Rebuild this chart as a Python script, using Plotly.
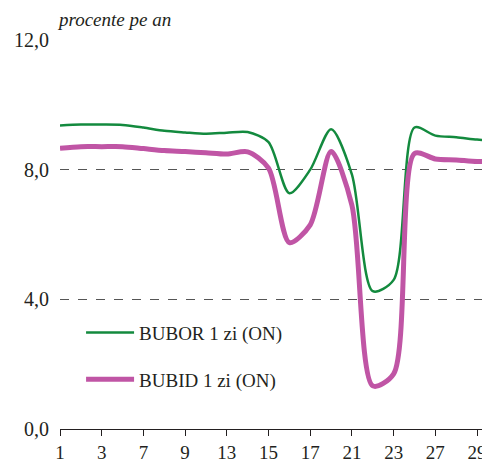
import plotly.graph_objects as go

days = ["1", "2", "3", "6", "7", "8", "9", "10", "13", "14", "15", "16", "17",
        "20", "21", "22", "23", "24", "27", "28", "29", "30"]
bubor = [9.36, 9.39, 9.39, 9.38, 9.30, 9.20, 9.15, 9.11, 9.14, 9.16, 8.85, 7.27,
         8.00, 9.25, 7.85, 4.25, 4.60, 9.30, 9.05, 9.00, 8.93, 8.88]
bubid = [8.66, 8.71, 8.71, 8.71, 8.65, 8.59, 8.56, 8.52, 8.48, 8.55, 8.05, 5.75,
         6.30, 8.56, 6.90, 1.33, 1.70, 8.50, 8.33, 8.30, 8.25, 8.28]
tick_days = ["1", "3", "7", "9", "13", "15", "17", "21", "23", "27", "29"]
y_ticks = [0, 4, 8, 12]
y_ticktext = ["0,0", "4,0", "8,0", "12,0"]

x = list(range(len(days)))
tickvals = [days.index(d) for d in tick_days]

FONT = "Liberation Serif, Times New Roman, serif"
TXT = "#231f20"

fig = go.Figure()
fig.add_trace(go.Scatter(x=x, y=bubor, mode="lines", name="BUBOR 1 zi (ON)",
                         line=dict(color="#138a3e", width=2.5, shape="spline", smoothing=0.8),
                         legend="legend"))
fig.add_trace(go.Scatter(x=x, y=bubid, mode="lines", name="BUBID 1 zi (ON)",
                         line=dict(color="#c055a5", width=5, shape="spline", smoothing=0.8),
                         legend="legend2"))

leg_common = dict(font=dict(family=FONT, size=19, color=TXT),
                  bgcolor="rgba(0,0,0,0)", itemwidth=48,
                  xanchor="left", yanchor="middle")

fig.update_layout(
    width=482, height=455,
    margin=dict(l=52, r=0, t=32, b=31),
    paper_bgcolor="white", plot_bgcolor="white",
    showlegend=True,
    legend=dict(x=0.049, y=0.2475, **leg_common),
    legend2=dict(x=0.049, y=0.1276, **leg_common),
    font=dict(family=FONT, size=19, color=TXT),
    xaxis=dict(range=[0, 20.62], tickvals=tickvals, ticktext=tick_days,
               showgrid=False, zeroline=False, showline=True, linecolor=TXT,
               linewidth=1, ticks="outside", ticklen=6, tickcolor=TXT,
               tickfont=dict(family=FONT, size=19, color=TXT)),
    yaxis=dict(range=[0, 12], tickvals=y_ticks, ticktext=y_ticktext,
               showgrid=True, gridcolor="#555555", griddash="dash", gridwidth=1,
               zeroline=False, showline=False, ticks="", ticklabelstandoff=10,
               tickfont=dict(family=FONT, size=20, color=TXT)),
    annotations=[dict(text="procente pe an", xref="paper", yref="paper",
                      x=0, y=1, xanchor="left", yanchor="bottom", yshift=8, xshift=-5,
                      showarrow=False,
                      font=dict(family=FONT, size=19, color=TXT, style="italic"))],
)

fig.write_html("out.html")
